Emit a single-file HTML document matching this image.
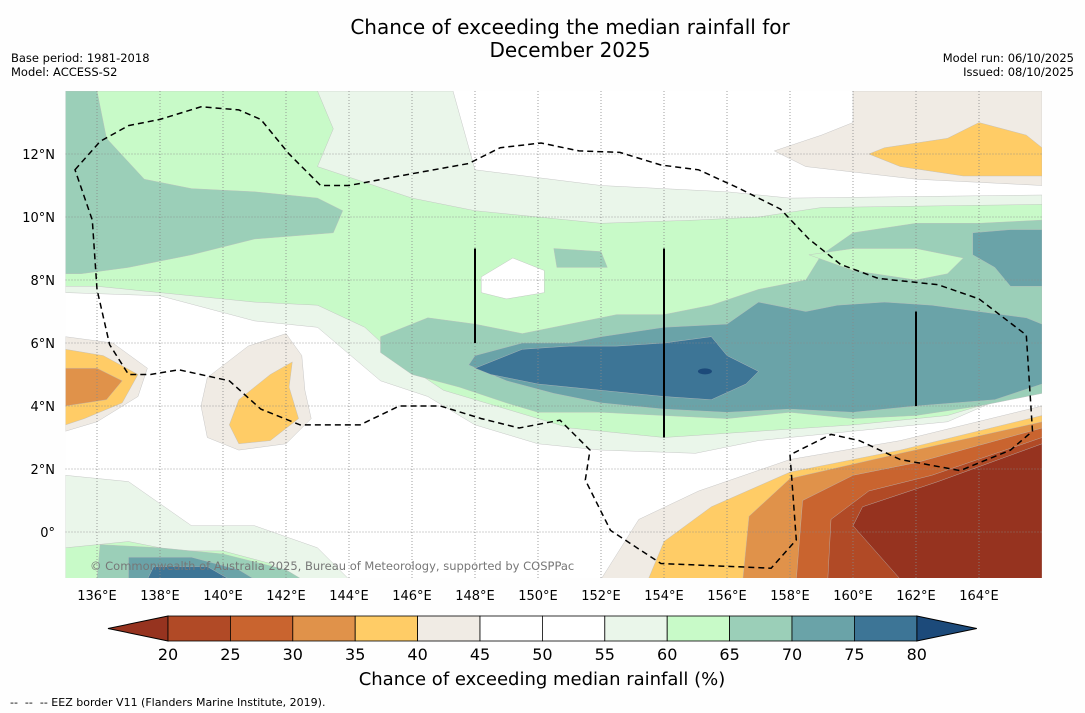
<!DOCTYPE html>
<html><head><meta charset="utf-8"><style>
body{margin:0;background:#fefefe;}
svg{display:block;font-family:"DejaVu Sans","Liberation Sans",sans-serif;}
</style></head><body>
<svg id="chart" width="1085" height="713" viewBox="0 0 1085 713">
<rect width="1085" height="713" fill="#fefefe"/>
<text x="570" y="34" font-size="20" text-anchor="middle">Chance of exceeding the median rainfall for</text>
<text x="570" y="57" font-size="20" text-anchor="middle">December 2025</text>
<text x="11" y="62" font-size="11.5">Base period: 1981-2018</text>
<text x="11" y="76" font-size="11.5">Model: ACCESS-S2</text>
<text x="1074" y="62" font-size="11.5" text-anchor="end">Model run: 06/10/2025</text>
<text x="1074" y="76" font-size="11.5" text-anchor="end">Issued: 08/10/2025</text>
<defs><clipPath id="mapclip"><rect x="65.5" y="91" width="976.5" height="487"/></clipPath></defs>
<g id="map" clip-path="url(#mapclip)">
<rect x="65.5" y="91" width="976.5" height="487" fill="#ffffff"/>
<g id="layers"></g>
<g id="grid"></g>
<g id="marks"></g>
</g>
<text x="90" y="570" font-size="11.5" fill="#777">© Commonwealth of Australia 2025, Bureau of Meteorology, supported by COSPPac</text>
<g id="ticks"></g>
<g id="colorbar"></g>
<text x="542" y="685" font-size="18" text-anchor="middle">Chance of exceeding median rainfall (%)</text>
<text x="10" y="706" font-size="11" xml:space="preserve">--  --  -- EEZ border V11 (Flanders Marine Institute, 2019).</text>
</svg>
<script>
const lonTicks=[136,138,140,142,144,146,148,150,152,154,156,158,160,162,164];
const latTicks=[0,2,4,6,8,10,12];
const levels=[20,25,30,35,40,45,50,55,60,65,70,75,80];
const levelColors=["#b14a26","#c9642f","#e0924a","#ffcc66","#f0ebe4","#ffffff","#ffffff","#eaf6ea","#c8fac8","#9bcfb8","#6aa3a8","#3d7596"];
const underColor="#96331f", overColor="#1c4a7a";
const regions=[
 [7,[[135,14],[147.3,14],[148,11.5],[152,11.0],[156,10.8],[158,10.6],[166,10.7],[166,4.8],[163,3.5],[160,3.2],[157,2.9],[155,2.5],[152,2.6],[150,2.8],[148,3.4],[146.5,4.3],[145,4.8],[143,6.5],[141,6.7],[138,7.5],[135,7.6]]],
 [7,[[135,1.8],[137,1.6],[139,0.2],[141,0.2],[143,-0.5],[144,-1.5],[135,-1.5]]],
 [8,[[135,14],[143,14],[143.5,12.8],[143,11.6],[146,10.6],[148,10.2],[152,9.8],[155,9.9],[157,10.0],[159,10.3],[166,10.4],[166,4.6],[163,3.7],[160,3.4],[157,3.2],[154,3.0],[151,3.3],[149,3.9],[147,4.5],[145.8,5.3],[144.5,6.5],[143,7.2],[141,7.3],[139,7.5],[136,7.8],[135,7.8]]],
 [8,[[135,-0.5],[137,-0.3],[138.5,-0.6],[140,-0.6],[141.5,-1.0],[142,-1.5],[135,-1.5]]],
 [5,[[148.2,8.1],[149.2,8.7],[150.2,8.3],[150.2,7.6],[149,7.4],[148.2,7.6]]],
 [9,[[135,14],[136,14],[136.3,12.5],[137.5,11.2],[139,10.9],[141,10.8],[143,10.6],[143.8,10.2],[143.5,9.5],[141,9.3],[139,8.8],[137,8.4],[135.5,8.2],[135,8.2]]],
 [9,[[145,6.2],[146.5,6.8],[148,6.6],[149.5,6.3],[151,6.6],[152.5,6.9],[154,6.9],[155.5,7.2],[157,7.7],[158.5,8.0],[159,8.8],[160,9.5],[162,9.8],[164,9.8],[166,9.9],[166,4.4],[164,4.0],[162,3.7],[160,3.6],[158,3.8],[156,3.6],[154,3.7],[152,3.8],[150,3.8],[149,4.1],[147.5,4.6],[146,5.0],[145,5.7]]],
 [9,[[150.5,9],[152,8.9],[152.2,8.4],[150.6,8.4]]],
 [9,[[136.1,-0.4],[138,-0.5],[140,-0.7],[142,-1.2],[142.5,-1.5],[136,-1.5]]],
 [8,[[158.6,8.8],[160,8.3],[162,8.0],[163,8.2],[163.5,8.7],[162,9.0],[160,9.0]]],
 [10,[[148,5.6],[149.5,6.0],[151,6.0],[152,6.2],[154,6.5],[156,6.6],[157,7.3],[158.5,7.0],[159.5,7.2],[161,7.3],[162.5,7.2],[164,7.0],[165.5,6.8],[166,6.6],[166,4.7],[164.5,4.2],[162,4.0],[160,3.8],[158,3.9],[156,3.8],[154,3.9],[152,4.1],[150.5,4.4],[149,4.8],[147.8,5.3]]],
 [10,[[163.8,9.5],[165,9.6],[166,9.6],[166,7.8],[165,7.8],[164.5,8.4],[163.8,8.8]]],
 [10,[[137,-0.8],[139,-0.8],[140.5,-1.2],[141,-1.5],[137,-1.5]]],
 [11,[[148,5.2],[149.5,5.8],[151,5.9],[152.5,5.9],[154,6.0],[155.5,6.2],[156,5.6],[157,5.1],[156.6,4.7],[155.5,4.2],[154,4.3],[152,4.5],[150,4.7],[148.5,5.0]]],
 [11,[[137.8,-1.1],[139.5,-1.1],[140.2,-1.5],[137.6,-1.5]]],
 [4,[[135,6.2],[136.5,6.0],[137.6,5.2],[137.3,4.3],[136,3.5],[135,3.2]]],
 [3,[[135,5.8],[136.2,5.6],[137.3,5.0],[136.8,4.1],[135.6,3.6],[135,3.4]]],
 [2,[[135,5.2],[136,5.2],[136.8,4.8],[136.3,4.2],[135,4.0]]],
 [4,[[139.5,4.9],[140.8,5.9],[142,6.3],[142.5,5.6],[142.6,4.5],[142.8,3.6],[142,2.8],[140.5,2.6],[139.5,3.0],[139.3,4.0]]],
 [3,[[140.5,4.2],[141.5,5.0],[142.2,5.4],[142.1,4.6],[142.4,3.6],[141.5,2.9],[140.5,2.8],[140.2,3.4]]],
 [4,[[160,14],[166,14],[166,11],[162,11.2],[158.5,11.6],[157.5,12.1],[159,12.6],[160,13]]],
 [3,[[161,12.2],[163,12.5],[164,13.0],[165.5,12.6],[166,12.2],[166,11.3],[163.5,11.3],[161.5,11.6],[160.5,12.0]]],
 [4,[[152,-1.5],[153.2,0.4],[155.1,1.3],[158,2.3],[161.5,2.9],[166,4.0],[166,-1.5]]],
 [3,[[153.5,-1.5],[154,-0.3],[155.5,0.8],[158,1.9],[161.5,2.6],[166,3.7],[166,-1.5]]],
 [2,[[156.5,-1.5],[156.7,0.5],[158,1.7],[161.5,2.5],[166,3.5],[166,-1.5]]],
 [1,[[158.2,-1.5],[158.4,1.0],[160,1.8],[162,2.2],[166,3.3],[166,-1.5]]],
 [0,[[159.2,-1.5],[159.3,0.4],[160.5,1.3],[162.5,1.8],[166,3.0],[166,-1.5]]],
 [-1,[[161.5,-1.5],[160,0.2],[160.3,0.8],[162.7,1.6],[166,2.8],[166,-1.5]]]
];
const eez=[[135.3,11.5],[136.1,12.4],[137,12.9],[138,13.1],[139.3,13.5],[140.5,13.4],[141.2,13.1],[142.1,12],[143.1,11],[144,11],[145.6,11.3],[147.8,11.7],[148.8,12.2],[150.1,12.35],[151.3,12.1],[152.6,12.05],[153.9,11.65],[155.1,11.5],[156.4,10.9],[157.7,10.25],[158.6,9.3],[159.6,8.5],[160.8,8.05],[162.7,7.85],[164,7.4],[165.5,6.25],[165.7,3.2],[165,2.6],[163.4,1.95],[161.5,2.3],[160.2,2.9],[159.3,3.1],[158,2.45],[158.2,-0.25],[157.4,-1.15],[153.9,-1.0],[152.3,0.05],[151.5,1.65],[151.65,2.6],[150.7,3.55],[149.4,3.3],[148.2,3.6],[146.9,4],[145.6,4],[144.35,3.4],[142.45,3.4],[141.2,3.9],[140.2,4.8],[138.6,5.15],[137.7,5],[137,5],[136.4,5.95],[136,7.7],[135.85,9.9]];
const bars=[[148,9,6],[154,9,3],[162,7,4]];
const NS="http://www.w3.org/2000/svg";
const X=lon=>65.5+(lon-135)*31.5, Y=lat=>91+(14-lat)*31.5;
function mk(tag,attrs,parent){const e=document.createElementNS(NS,tag);for(const k in attrs)e.setAttribute(k,attrs[k]);parent.appendChild(e);return e;}
const pts=p=>p.map(q=>X(q[0]).toFixed(1)+","+Y(q[1]).toFixed(1)).join(" ");
const L=document.getElementById("layers");
regions.forEach((r,i)=>{
 const c=r[0]<0?underColor:(r[0]>=levelColors.length?overColor:levelColors[r[0]]);
 const e=mk("polygon",{points:pts(r[1]),fill:c,stroke:"#bbb","stroke-width":0.4},L);
 
 
});
const sp=mk("ellipse",{cx:X(155.3),cy:Y(5.1),rx:7,ry:3,fill:overColor},L);


const G=document.getElementById("grid");
lonTicks.forEach(v=>{const e=mk("line",{x1:X(v),x2:X(v),y1:91,y2:578,stroke:"#888","stroke-width":0.8,"stroke-dasharray":"1,2"},G);
 
 });
latTicks.forEach(v=>{const e=mk("line",{x1:65.5,x2:1042,y1:Y(v),y2:Y(v),stroke:"#888","stroke-width":0.8,"stroke-dasharray":"1,2"},G);
 
 });
const M=document.getElementById("marks");
const ez=mk("polygon",{points:pts(eez),fill:"none",stroke:"#000","stroke-width":1.5,"stroke-dasharray":"6,4"},M);


bars.forEach(b=>{const e=mk("line",{x1:X(b[0]),x2:X(b[0]),y1:Y(b[1]),y2:Y(b[2]),stroke:"#000","stroke-width":2},M);
 
 });
const T=document.getElementById("ticks");
lonTicks.forEach(v=>{const e=mk("text",{x:X(v),y:600,"font-size":13,"text-anchor":"middle"},T);e.textContent=v+"°E";
 
 });
latTicks.forEach(v=>{const e=mk("text",{x:55,y:Y(v)+5,"font-size":13,"text-anchor":"end"},T);e.textContent=v===0?"0°":v+"°N";
 
 });
const C=document.getElementById("colorbar");
const cx0=168,cw=62.4,cy=616,ch=25;
const ut=mk("polygon",{points:`108,${cy+ch/2} ${cx0},${cy} ${cx0},${cy+ch}`,fill:underColor,stroke:"#000","stroke-width":1},C);


const xe=cx0+cw*levelColors.length;
const ot=mk("polygon",{points:`${xe},${cy} ${xe+60},${cy+ch/2} ${xe},${cy+ch}`,fill:overColor,stroke:"#000","stroke-width":1},C);


levelColors.forEach((c,i)=>{const e=mk("rect",{x:cx0+i*cw,y:cy,width:cw,height:ch,fill:c,stroke:"#000","stroke-width":0.8},C);
 
 });
levels.forEach((v,i)=>{const e=mk("text",{x:cx0+i*cw,y:660,"font-size":16,"text-anchor":"middle"},C);e.textContent=v;
 
 });
</script>
</body></html>
